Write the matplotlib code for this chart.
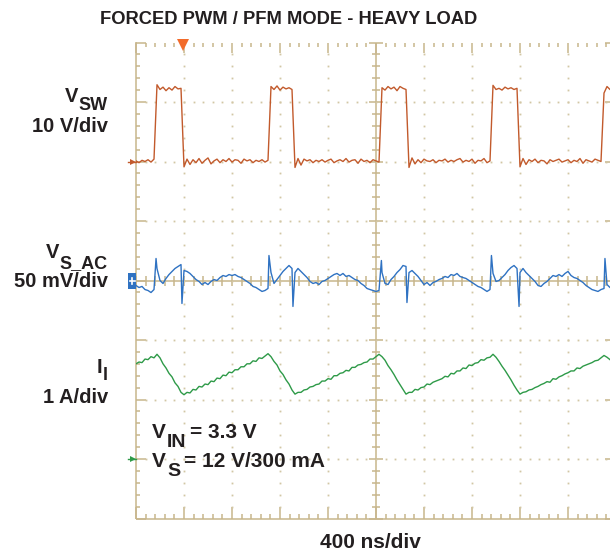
import numpy as np
import matplotlib
matplotlib.use('Agg')
import matplotlib.pyplot as plt
from matplotlib.patches import Rectangle
from matplotlib.collections import LineCollection

# ---------------- data ----------------
TIME_STEP_NS = 25          # sample spacing of the traces
NS_PER_DIV = 400
VSW_V_PER_DIV = 10
VAC_MV_PER_DIV = 50
IL_A_PER_DIV = 1

# switch node voltage (V)
vsw_v = [0.1, -0.2, 0.2, 0.0, 0.3, -0.1, 0.4,
         12.9, 12.1, 12.5, 11.9, 12.4, 12.0, 12.6, 12.2, 12.3,
         -0.9, 0.4, -0.5, 0.3, -0.2, 0.5, -0.3, 0.2, 0.6, -0.4, 0.1, 0.4, -0.2, 0.3, 0.0,
         0.5, -0.1, 0.3, 0.2, -0.3, 0.4, 0.1, 0.3, -0.2, 0.2, 0.0, 0.3, -0.1, 0.2,
         12.6, 12.1, 12.7, 12.0, 12.5, 12.2, 12.4, 12.1,
         -1.0, 0.5, -0.6, 0.4, 0.1, 0.3, -0.2, 0.2, 0.0, 0.3, -0.1, 0.2, 0.4, -0.2, 0.1,
         0.3, 0.0, 0.5, -0.1, 0.2, 0.3, -0.3, 0.4, 0.0, 0.2, -0.2, 0.3, 0.1, -0.1,
         12.4, 12.0, 12.6, 12.2, 12.5, 11.9, 12.6, 12.3, 12.1,
         -1.0, 0.6, -0.4, 0.3, -0.2, 0.4, 0.1, 0.0, 0.3, -0.2, 0.2, 0.1, 0.4, -0.1,
         0.2, 0.0, 0.3, 0.5, -0.1, 0.2, 0.0, 0.4, -0.3, 0.2, 0.1, 0.5, -0.2, 0.1,
         12.8, 12.1, 12.3, 12.0, 12.5, 12.2, 12.4, 12.1, 12.3,
         -0.9, 0.5, -0.5, 0.3, 0.0, 0.4, -0.2, 0.2, 0.1, -0.4, 0.3, 0.0, 0.2, 0.4,
         -0.1, 0.1, 0.3, -0.2, 0.2, 0.0, 0.5, -0.3, 0.3, 0.1, -0.1, 0.4, 0.2, 0.0,
         11.5, 12.6, 12.1, 12.4, 12.2]

# output voltage ripple, AC coupled (mV)
vac_mv = [-4.2, -5.9, -5.0, -7.6, -8.4, -10.1, -7.6, 10.0, 0.0, -2.5, 1.7, 5.0, 7.6, 10.1, 11.8, 13.4,
          8.4, 7.6, 5.9, 3.4, 0.8, -0.8, -3.4, -1.7, -3.4, -0.8, 0.8, 0.0, 2.5, 4.2, 3.4, 5.0,
          4.2, 5.0, 3.4, 2.5, 0.8, -0.8, -2.5, -5.0, -5.9, -7.6, -9.2, -8.4, -6.7,
          6.7, -2.5, 0.8, 4.2, 7.6, 10.1, 12.6, 10.1,
          6.7, 10.1, 7.6, 5.0, 2.5, -0.8, -2.5, -1.7, -3.4, -0.8, 0.0, 1.7, 3.4, 5.0, 5.9,
          4.2, 5.9, 3.4, 4.2, 2.5, 0.8, 0.0, -2.5, -4.2, -6.7, -7.6, -8.4, -9.2, -8.4,
          6.7, -2.5, -3.4, 0.8, 3.4, 6.7, 9.2, 12.6, 11.8,
          6.7, 8.4, 5.9, 3.4, 0.0, -3.4, -1.7, -4.2, -1.7, -0.8, 0.8, 1.7, 3.4, 2.5,
          5.0, 4.2, 5.9, 3.4, 2.5, 1.7, 0.0, -1.7, -3.4, -5.0, -5.9, -7.6, -9.2, -7.6,
          6.0, -0.8, 0.0, 2.5, 5.0, 8.4, 10.9, 12.6, 10.1,
          6.7, 10.1, 6.7, 4.2, 1.7, -0.8, -4.2, -5.0, -2.5, -0.8, 1.7, 4.2, 3.4, 5.0,
          3.4, 5.9, 7.6, 4.2, 2.5, 1.7, 0.0, -1.7, -4.2, -5.9, -7.6, -8.4, -9.2, -7.6, -6.7,
          -3.4, -5.9, -6.7, -5.9]
# narrow switching spikes on the ripple trace
spike_ns = [167, 383, 1108, 1308, 2045, 2258, 2962, 3192, 3908]
spike_mv = [18.5, -19.3, 21.0, -21.8, 16.8, -18.5, 21.0, -21.8, 18.5]

# inductor current (A)
il_a = [1.60, 1.63, 1.62, 1.68, 1.67, 1.72, 1.70, 1.76,
        1.70, 1.60, 1.53, 1.44, 1.38, 1.28, 1.22, 1.12, 1.08,
        1.12, 1.11, 1.17, 1.16, 1.22, 1.21, 1.26, 1.25, 1.31, 1.30, 1.36, 1.35, 1.41, 1.40,
        1.46, 1.45, 1.50, 1.50, 1.55, 1.55, 1.60, 1.60, 1.65, 1.64, 1.70, 1.69, 1.73, 1.77,
        1.72, 1.64, 1.58, 1.48, 1.42, 1.33, 1.26, 1.16, 1.09,
        1.12, 1.12, 1.16, 1.17, 1.21, 1.22, 1.25, 1.26, 1.31, 1.31, 1.35, 1.34, 1.40, 1.40,
        1.44, 1.45, 1.49, 1.48, 1.54, 1.54, 1.58, 1.59, 1.62, 1.63, 1.68, 1.68, 1.72, 1.76,
        1.72, 1.66, 1.57, 1.50, 1.42, 1.33, 1.25, 1.17, 1.09,
        1.12, 1.12, 1.17, 1.16, 1.20, 1.21, 1.26, 1.25, 1.29, 1.31, 1.33, 1.35, 1.39, 1.38,
        1.44, 1.43, 1.48, 1.48, 1.53, 1.52, 1.58, 1.57, 1.61, 1.62, 1.67, 1.66, 1.70, 1.71, 1.76,
        1.71, 1.64, 1.56, 1.49, 1.41, 1.33, 1.24, 1.16, 1.09,
        1.12, 1.13, 1.16, 1.17, 1.20, 1.22, 1.25, 1.27, 1.30, 1.29, 1.35, 1.34, 1.38, 1.40,
        1.43, 1.45, 1.48, 1.48, 1.53, 1.52, 1.56, 1.58, 1.60, 1.62, 1.65, 1.66, 1.70, 1.74,
        1.71, 1.67, 1.62, 1.57]

# channel ground positions (divisions from screen centre)
vsw_ground_div = 2.0
vac_ground_div = 0.0
il_ground_div = -3.0
trigger_ns = 393

title = "FORCED PWM / PFM MODE - HEAVY LOAD"
timebase_label = "400 ns/div"

# ---------------- figure ----------------
W, H = 610, 555
fig = plt.figure(figsize=(W / 100, H / 100), dpi=100)
fig.patch.set_facecolor('white')


def fx(px):
    return px / W


def fy(py):
    return 1 - py / H


GX0, GX1, GY0, GY1 = 136, 616, 42.5, 518.5
ax = fig.add_axes([fx(GX0), fy(GY1), (GX1 - GX0) / W, (GY1 - GY0) / H])
ax.set_xlim(0, 10 * NS_PER_DIV)
ax.set_ylim(-4, 4)
ax.axis('off')

PXX = 10 * NS_PER_DIV / (GX1 - GX0)   # ns per pixel
PXY = 8 / (GY1 - GY0)                 # div per pixel
XMAX = 10 * NS_PER_DIV

GRID = '#c7b68c'
DOT = '#d2c6a4'

segs = []
# borders (no line on top)
segs += [[(0, -4), (0, 4 + 0.5 * PXY)], [(0, -4), (XMAX, -4)], [(XMAX, -4), (XMAX, 4)]]
# centre cross
segs += [[(XMAX / 2, -4), (XMAX / 2, 4)], [(0, 0), (XMAX, 0)]]
xminor = np.arange(0, XMAX + 1, NS_PER_DIV / 5)
yminor = np.round(np.arange(-4, 4.001, 0.2), 3)
for xv in xminor:
    major = abs(xv / NS_PER_DIV - round(xv / NS_PER_DIV)) < 1e-6
    lt = (10.5 if major else 4) * PXY
    lb = (12 if major else 5) * PXY
    segs.append([(xv, 4), (xv, 4 - lt)])
    segs.append([(xv, -4), (xv, -4 + lb)])
    segs.append([(xv, -5 * PXY), (xv, 5 * PXY)])
for yv in yminor:
    major = abs(yv - round(yv)) < 1e-6
    ll = (10 if major else 4) * PXX
    segs.append([(0, yv), (ll, yv)])
    segs.append([(XMAX, yv), (XMAX - (11 if major else 4) * PXX, yv)])
    lc = (7 if major else 4) * PXX
    segs.append([(XMAX / 2 - lc, yv), (XMAX / 2 + lc, yv)])
ax.add_collection(LineCollection(segs, colors=GRID, linewidths=1.1, zorder=1, clip_on=False))

# dotted graticule
dx, dy = [], []
for k in range(1, 10):
    if k == 5:
        continue
    for yv in yminor[1:-1]:
        dx.append(k * NS_PER_DIV)
        dy.append(yv)
for yv in [-3, -2, -1, 1, 2, 3]:
    for xv in xminor[1:-1]:
        dx.append(xv)
        dy.append(yv)
ax.plot(dx, dy, linestyle='none', marker='s', markersize=1.3, color=DOT,
        markeredgewidth=0, zorder=1)

# ---------------- traces ----------------
t = np.arange(len(vsw_v)) * TIME_STEP_NS
ax.plot(t, vsw_ground_div + np.array(vsw_v) / VSW_V_PER_DIV, color='#c25a2c', lw=1.0, zorder=3)

t_ac = np.concatenate([np.arange(len(vac_mv)) * TIME_STEP_NS, spike_ns])
v_ac = np.concatenate([vac_mv, spike_mv])
order = np.argsort(t_ac, kind='stable')
ax.plot(t_ac[order], vac_ground_div + v_ac[order] / VAC_MV_PER_DIV, color='#2f72c2', lw=1.0, zorder=3)

ax.plot(t, il_ground_div + np.array(il_a) / IL_A_PER_DIV, color='#2e9a48', lw=1.0, zorder=3)

# ---------------- markers ----------------
ax.plot([trigger_ns], [4 - 2.5 * PXY], marker='v', markersize=8, color='#f26b2a',
        markeredgewidth=0, clip_on=False, zorder=5)
# ground markers
ax.plot([-8 * PXX, 0], [vsw_ground_div, vsw_ground_div], color='#c25a2c', lw=1.0, clip_on=False, zorder=5)
ax.plot([-3 * PXX], [vsw_ground_div], marker='>', markersize=4, color='#c25a2c',
        markeredgewidth=0, clip_on=False, zorder=5)
ax.plot([-8 * PXX, 0], [il_ground_div, il_ground_div], color='#2e9a48', lw=1.0, clip_on=False, zorder=5)
ax.plot([-3 * PXX], [il_ground_div], marker='>', markersize=4, color='#2e9a48',
        markeredgewidth=0, clip_on=False, zorder=5)
ax.add_patch(Rectangle((-8 * PXX, vac_ground_div - 8 * PXY), 8 * PXX, 16 * PXY,
                       facecolor='#2f72c2', edgecolor='none', clip_on=False, zorder=5))
ax.plot([-6.5 * PXX, -1 * PXX], [vac_ground_div, vac_ground_div], color='white', lw=1.2,
        clip_on=False, zorder=6)
ax.plot([-4.5 * PXX, -4.5 * PXX], [vac_ground_div - 3 * PXY, vac_ground_div + 3 * PXY],
        color='white', lw=1.2, clip_on=False, zorder=6)

# ---------------- text ----------------
FONT = 'Liberation Sans'
renderer = fig.canvas.get_renderer()


def txt(x, y, s, size, ha='left'):
    return fig.text(fx(x), fy(y), s, ha=ha, va='baseline', fontsize=size, fontweight='bold',
                    family=FONT, color='#231f20')


def right_edge(obj):
    return obj.get_window_extent(renderer).x1


def left_edge(obj):
    return obj.get_window_extent(renderer).x0


txt(289, 24, title, 13.2, ha='center')

MAIN, SUB = 14.5, 13


def side_label(main, sub, y_main, y_sub, line2, y2, xr=108):
    s = txt(xr, y_sub, sub, SUB, ha='right')
    txt(left_edge(s) - 0.5, y_main, main, MAIN, ha='right')
    txt(xr, y2, line2, MAIN, ha='right')


side_label('V', 'SW', 102, 110, '10 V/div', 132)
side_label('V', 'S_AC', 258, 268, '50 mV/div', 287)
side_label('I', 'l', 373, 380, '1 A/div', 403)

INNER, INNER_SUB = 15, 14


def inner_label(x, y, main, sub, rest):
    a = txt(x, y, main, INNER)
    b = txt(right_edge(a) + 1, y + 9, sub, INNER_SUB)
    txt(right_edge(b) + 4, y, rest, INNER)


inner_label(152, 438, 'V', 'IN', '= 3.3 V')
inner_label(152, 467, 'V', 'S', '= 12 V/300 mA')

txt(370, 548, timebase_label, 15, ha='center')

fig.savefig('out.png', dpi=100, facecolor='white')
